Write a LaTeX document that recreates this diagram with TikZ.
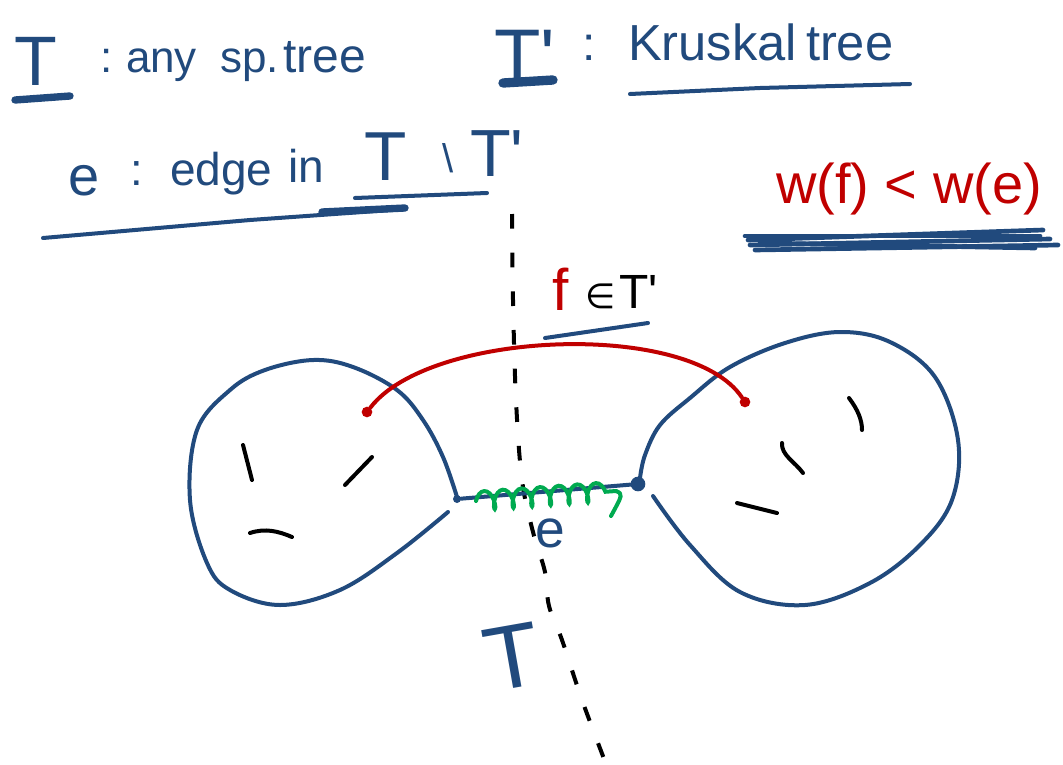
\documentclass[tikz,border=0pt]{standalone}
\usepackage{fontspec}
\setmainfont{Liberation Sans}
\newfontfamily\symbolfam{DejaVu Sans}
\usetikzlibrary{decorations.pathmorphing}
\definecolor{ink}{RGB}{33,74,125}
\definecolor{redink}{RGB}{192,0,0}
\definecolor{greenink}{RGB}{0,170,80}
\newcommand{\fsz}[1]{\fontsize{#1}{#1}\selectfont}
\newcommand{\prm}{\textquotesingle}

\begin{document}
\begin{tikzpicture}[x=0.75pt,y=-0.75pt,
  pen/.style={line width=3pt, line cap=round, line join=round},
  bold pen/.style={line width=5.5pt, line cap=round},
  word/.style={inner sep=0pt, outer sep=0pt, anchor=base west},
  dot/.style={circle, fill, inner sep=0pt, minimum size=#1},
  tick/.style={pen, black},
  cut/.style={pen, black, line cap=butt, dash pattern=on 11pt off 18pt}]
\useasboundingbox[fill=white] (0,0) rectangle (1063,764);

% ---- headline: the two trees ----
\node[word, ink, font=\fsz{52.5pt}] (tAny) at (14,85) {T};
\node[word, ink, font=\fsz{33pt}] (colA) at (100,72) {:};
\node[word, ink, font=\fsz{33pt}] (wAny) at (126,72) {any};
\node[word, ink, font=\fsz{33pt}] (wSp) at (220,72) {sp.};
\node[word, ink, font=\fsz{36pt}] (wTree) at (283,72) {tree};
\draw[ink, bold pen] (15,100) -- (70,96);

\node[word, ink, font=\fsz{57pt}] (tKr) at (494,82) {T\prm};
\draw[ink, line width=7pt, line cap=round] (503,83) -- (553,80);
\node[word, ink, font=\fsz{36pt}] (colK) at (582,60) {:};
\node[word, ink, font=\fsz{38pt}] (wKr) at (628,60) {Kruskal};
\node[word, ink, font=\fsz{38pt}] (wTree2) at (806,60) {tree};
\draw[ink, pen] (630,94) -- (760,88) -- (910,84);

% ---- second line ----
\node[word, ink, font=\fsz{42pt}] (eDef) at (68,195) {e};
\node[word, ink, font=\fsz{34pt}] (colE) at (130,185) {:};
\node[word, ink, font=\fsz{34.5pt}] (wEdge) at (170,185) {edge};
\node[word, ink, font=\fsz{34.5pt}] (wIn) at (288,182) {in};
\node[word, ink, font=\fsz{52pt}] (tA) at (364,180) {T};
\node[word, ink, font=\fsz{30pt}] (bs) at (442,172) {\textbackslash};
\node[word, ink, font=\fsz{50pt}] (tB) at (470,176) {T\prm};
\draw[ink, pen] (355,198) -- (487,193);
\draw[ink, pen] (43,238) -- (250,220) -- (405,209);
\draw[ink, bold pen] (322,212) -- (405,208);

% ---- weight comparison ----
\node[word, redink, font=\fsz{42pt}] (ineq) at (776,203) {w(f) < w(e)};
\foreach \a/\b/\c/\d in {748/240/1043/230, 745/236/1040/236, 750/245/1050/239,
                         755/250/1058/245, 760/243/1035/248}
  \draw[ink, line width=3.5pt, line cap=round] (\a,\b) -- (\c,\d);

% ---- the cut ----
\draw[cut] plot[smooth, tension=0.6] coordinates
  {(512,214) (513,300) (516,400) (522,480) (533,532) (545,572) (549,606) (562,640) (582,700) (606,764)};

% ---- the two components ----
\node[dot=6pt, ink] (u) at (457,499) {};
\node[dot=11pt, ink] (v) at (638,484) {};

\draw[ink, pen] plot[smooth, tension=0.6] coordinates
  {(448,512) (397,553) (340,590) (280,605) (230,590) (207,563) (190,500) (197,430)
   (230,390) (265,370) (313,360) (353,367) (397,390) (423,420) (443,457) (457,497)};

\draw[ink, pen] plot[smooth, tension=0.6] coordinates
  {(640,478) (645,455) (660,425) (690,398) (730,367) (785,343) (840,332) (890,342)
   (935,377) (958,440) (952,500) (920,545) (870,583) (805,605) (740,592) (690,545)
   (653,496)};

% tree edges inside the components
\draw[tick] (243,445) -- (252,480);
\draw[tick] (345,485) -- (372,457);
\draw[tick] (250,533) .. controls (265,528) and (278,531) .. (292,537);
\draw[tick] (849,398) .. controls (858,410) and (862,420) .. (862,430);
\draw[tick] (782,443) .. controls (781,455) and (795,462) .. (803,473);
\draw[tick] (737,503) -- (777,513);

% edge e of T crossing the cut
\draw[ink, pen] (u) -- (v);
\draw[greenink, line width=3pt, line cap=round, decorate,
      decoration={coil, amplitude=7pt, segment length=14pt, aspect=0.45}]
  (476,501) -- (616,491);
\draw[greenink, pen] (616,491) .. controls (623,494) .. (611,516);
\node[word, ink, font=\fsz{40pt}] (eLbl) at (535,547) {e};

% edge f of T' crossing the cut
\node[dot=8pt, redink] (fa) at (367,412) {};
\node[dot=8pt, redink] (fb) at (745,402) {};
\draw[redink, pen] (fa) .. controls (430,330) and (690,320) .. (fb);
\node[word, redink, font=\fsz{44pt}] (fLbl) at (552,310) {f};
\node[word, black, font=\fsz{26pt}\symbolfam] (inLbl) at (585,308) {∈};
\node[word, black, font=\fsz{36pt}] (tLbl) at (619,308) {T\prm};
\draw[ink, pen] (545,338) -- (600,330) -- (648,323);

% label of T on the cut
\node[word, ink, font=\fsz{68pt}, rotate=10] (tBot) at (490,692) {T};
\end{tikzpicture}
\end{document}
